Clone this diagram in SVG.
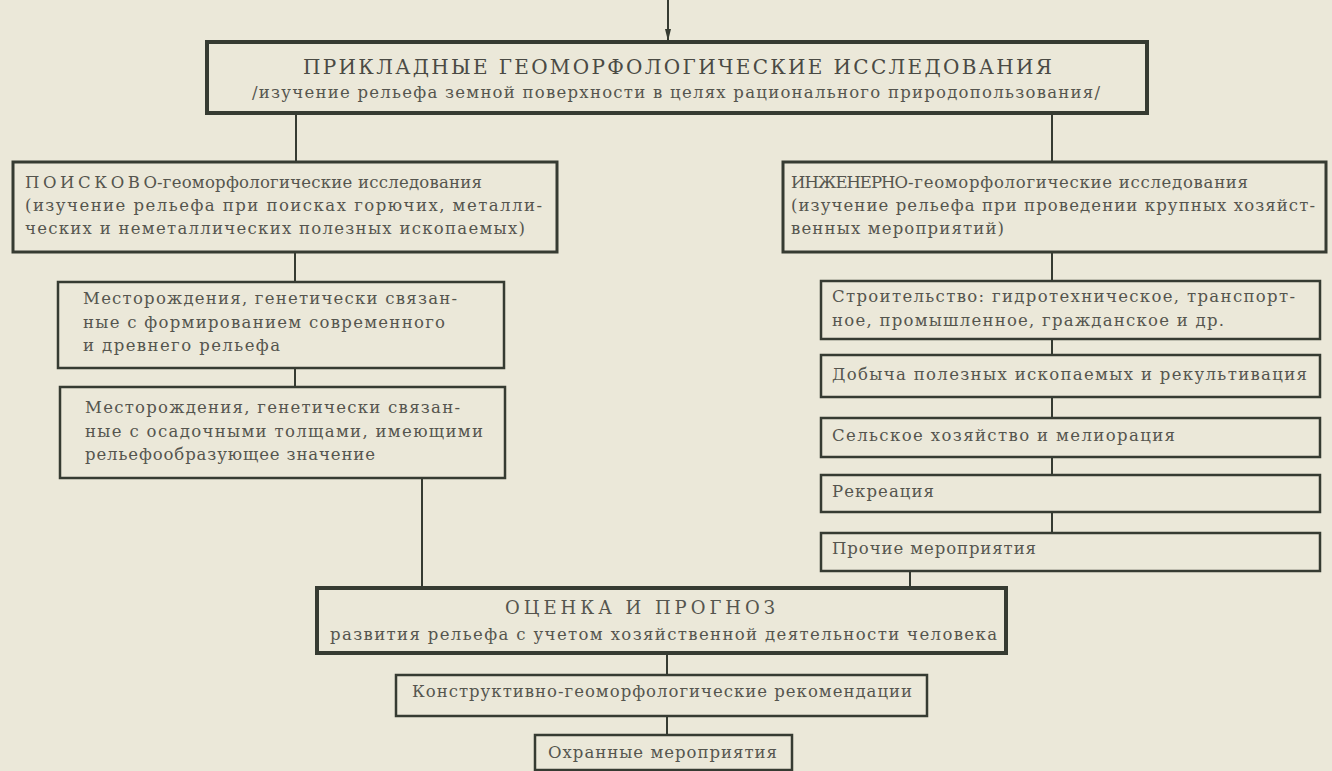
<svg xmlns="http://www.w3.org/2000/svg" width="1332" height="771" viewBox="0 0 1332 771">
<defs>
<style>
.box{fill:none;stroke:#363b32;stroke-width:2.5}
.thick{stroke-width:4}
.mid{stroke-width:3}
.t{font-family:"DejaVu Serif","Liberation Serif",serif;font-size:16.5px;fill:#55554e}
.h{font-size:20px;fill:#4a4a44}
.conn line{stroke:#363b32;stroke-width:2}
</style>
<marker id="arr" viewBox="0 0 12 6" refX="12" refY="3" markerWidth="12" markerHeight="6" markerUnits="userSpaceOnUse" orient="auto">
<path d="M0,0 L12,3 L0,6 z" fill="#363b32"/>
</marker>
</defs>
<rect width="1332" height="771" fill="#ebe8d9"/>

<g id="connectors" class="conn">
<line x1="668" y1="0" x2="668" y2="41" marker-end="url(#arr)"/>
<line x1="296" y1="113" x2="296" y2="162"/>
<line x1="1052" y1="113" x2="1052" y2="162"/>
<line x1="295" y1="252" x2="295" y2="282"/>
<line x1="295" y1="368" x2="295" y2="387"/>
<line x1="422" y1="478" x2="422" y2="588"/>
<line x1="1052" y1="252" x2="1052" y2="281"/>
<line x1="1052" y1="339" x2="1052" y2="355"/>
<line x1="1052" y1="397" x2="1052" y2="418"/>
<line x1="1052" y1="457" x2="1052" y2="475"/>
<line x1="1052" y1="512" x2="1052" y2="533"/>
<line x1="910" y1="571" x2="910" y2="588"/>
<line x1="667" y1="653" x2="667" y2="675"/>
<line x1="667" y1="716" x2="667" y2="735"/>
</g>

<g id="n-applied">
<rect class="box thick" x="207" y="42" width="940" height="71"/>
<text class="t h" x="303" y="74" textLength="749" lengthAdjust="spacing">ПРИКЛАДНЫЕ ГЕОМОРФОЛОГИЧЕСКИЕ ИССЛЕДОВАНИЯ</text>
<text class="t" x="252" y="98" textLength="848" lengthAdjust="spacing">/изучение рельефа земной поверхности в целях рационального природопользования/</text>
</g>

<g id="n-search">
<rect class="box mid" x="13" y="162" width="544" height="90"/>
<text class="t" x="25" y="188" textLength="132" lengthAdjust="spacing">ПОИСКОВО</text>
<text class="t" x="157" y="188" textLength="325" lengthAdjust="spacing">-геоморфологические исследования</text>
<text class="t" x="25" y="211" textLength="517" lengthAdjust="spacing">(изучение рельефа при поисках горючих, металли-</text>
<text class="t" x="25" y="234" textLength="500" lengthAdjust="spacing">ческих и неметаллических полезных ископаемых)</text>
</g>

<g id="n-engineering">
<rect class="box mid" x="783" y="162" width="543" height="90"/>
<text class="t" x="791" y="188" textLength="117" lengthAdjust="spacing">ИНЖЕНЕРНО</text>
<text class="t" x="908" y="188" textLength="340" lengthAdjust="spacing">-геоморфологические исследования</text>
<text class="t" x="791" y="211" textLength="524" lengthAdjust="spacing">(изучение рельефа при проведении крупных хозяйст-</text>
<text class="t" x="791" y="234" textLength="213" lengthAdjust="spacing">венных мероприятий)</text>
</g>

<g id="n-deposits-relief">
<rect class="box" x="58" y="282" width="446" height="86"/>
<text class="t" x="83" y="304" textLength="374" lengthAdjust="spacing">Месторождения, генетически связан-</text>
<text class="t" x="83" y="328" textLength="362" lengthAdjust="spacing">ные с формированием современного</text>
<text class="t" x="83" y="351" textLength="197" lengthAdjust="spacing">и древнего рельефа</text>
</g>

<g id="n-deposits-sediment">
<rect class="box" x="60" y="387" width="445" height="91"/>
<text class="t" x="85" y="413" textLength="375" lengthAdjust="spacing">Месторождения, генетически связан-</text>
<text class="t" x="85" y="437" textLength="398" lengthAdjust="spacing">ные с осадочными толщами, имеющими</text>
<text class="t" x="85" y="460" textLength="290" lengthAdjust="spacing">рельефообразующее значение</text>
</g>

<g id="n-construction">
<rect class="box" x="821" y="281" width="499" height="58"/>
<text class="t" x="832" y="302" textLength="463" lengthAdjust="spacing">Строительство: гидротехническое, транспорт-</text>
<text class="t" x="832" y="326" textLength="392" lengthAdjust="spacing">ное, промышленное, гражданское и др.</text>
</g>

<g id="n-mining">
<rect class="box" x="821" y="355" width="499" height="42"/>
<text class="t" x="832" y="380" textLength="475" lengthAdjust="spacing">Добыча полезных ископаемых и рекультивация</text>
</g>

<g id="n-agriculture">
<rect class="box" x="821" y="418" width="499" height="39"/>
<text class="t" x="832" y="441" textLength="343" lengthAdjust="spacing">Сельское хозяйство и мелиорация</text>
</g>

<g id="n-recreation">
<rect class="box" x="821" y="475" width="499" height="37"/>
<text class="t" x="832" y="497" textLength="102" lengthAdjust="spacing">Рекреация</text>
</g>

<g id="n-other">
<rect class="box" x="821" y="533" width="499" height="38"/>
<text class="t" x="832" y="554" textLength="204" lengthAdjust="spacing">Прочие мероприятия</text>
</g>

<g id="n-assessment">
<rect class="box thick" x="317" y="588" width="689" height="65"/>
<text class="t" style="font-size:18px" x="505" y="614" textLength="270" lengthAdjust="spacing">ОЦЕНКА И ПРОГНОЗ</text>
<text class="t" x="330" y="640" textLength="667" lengthAdjust="spacing">развития рельефа с учетом хозяйственной деятельности человека</text>
</g>

<g id="n-recommendations">
<rect class="box" x="396" y="675" width="531" height="41"/>
<text class="t" x="412" y="697" textLength="500" lengthAdjust="spacing">Конструктивно-геоморфологические рекомендации</text>
</g>

<g id="n-protection">
<rect class="box" x="535" y="735" width="257" height="35"/>
<text class="t" x="548" y="758" textLength="229" lengthAdjust="spacing">Охранные мероприятия</text>
</g>
</svg>
